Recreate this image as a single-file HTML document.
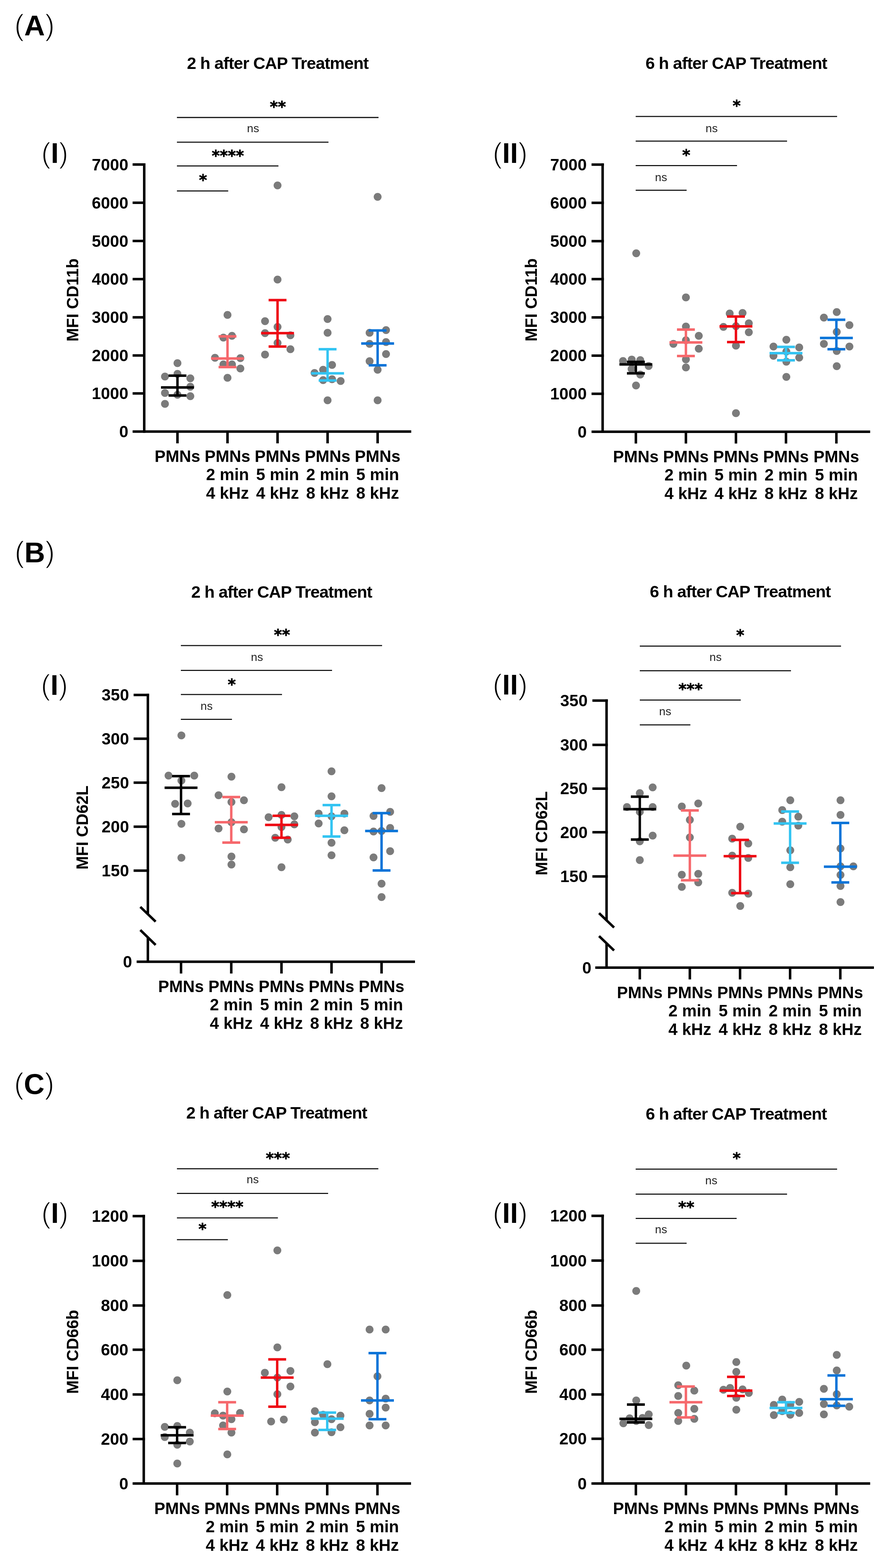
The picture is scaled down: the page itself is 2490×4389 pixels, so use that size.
<!DOCTYPE html>
<html><head><meta charset="utf-8"><title>CAP Treatment PMN markers</title>
<style>html,body{margin:0;padding:0;background:#fff;}body{width:2490px;height:4389px;overflow:hidden;}svg{display:block;}.pr{stroke:#fff;stroke-width:2.4px;}.st{font-family:'DejaVu Sans',sans-serif;stroke:#000;stroke-width:1px;}</style>
</head><body>
<svg width="2490" height="4389" viewBox="0 0 2490 4389" font-family="'Liberation Sans', Arial, Helvetica, sans-serif">
<rect width="2490" height="4389" fill="#fff"/>
<text x="40" y="98.5" font-size="80"><tspan class="pr" font-size="83">(</tspan><tspan font-weight="bold">A</tspan><tspan class="pr" font-size="83">)</tspan></text>
<text x="40.7" y="1574" font-size="80"><tspan class="pr" font-size="83">(</tspan><tspan font-weight="bold">B</tspan><tspan class="pr" font-size="83">)</tspan></text>
<text x="39.2" y="3062" font-size="80"><tspan class="pr" font-size="83">(</tspan><tspan font-weight="bold">C</tspan><tspan class="pr" font-size="83">)</tspan></text>
<circle cx="496.5" cy="1016.5" r="11" fill="#7b7b7b"/>
<circle cx="496.5" cy="1046.5" r="11" fill="#7b7b7b"/>
<circle cx="461.5" cy="1054" r="11" fill="#7b7b7b"/>
<circle cx="532.5" cy="1059" r="11" fill="#7b7b7b"/>
<circle cx="532.5" cy="1082.5" r="11" fill="#7b7b7b"/>
<circle cx="461.5" cy="1100" r="11" fill="#7b7b7b"/>
<circle cx="496.5" cy="1105" r="11" fill="#7b7b7b"/>
<circle cx="532.5" cy="1109" r="11" fill="#7b7b7b"/>
<circle cx="461.5" cy="1130.5" r="11" fill="#7b7b7b"/>
<circle cx="636.5" cy="881.5" r="11" fill="#7b7b7b"/>
<circle cx="625" cy="945" r="11" fill="#7b7b7b"/>
<circle cx="649" cy="940" r="11" fill="#7b7b7b"/>
<circle cx="601.5" cy="1001.5" r="11" fill="#7b7b7b"/>
<circle cx="672.5" cy="1002.5" r="11" fill="#7b7b7b"/>
<circle cx="625" cy="1020" r="11" fill="#7b7b7b"/>
<circle cx="649" cy="1020" r="11" fill="#7b7b7b"/>
<circle cx="672.5" cy="1031.5" r="11" fill="#7b7b7b"/>
<circle cx="636.5" cy="1057.5" r="11" fill="#7b7b7b"/>
<circle cx="776.5" cy="519" r="11" fill="#7b7b7b"/>
<circle cx="776.5" cy="782.5" r="11" fill="#7b7b7b"/>
<circle cx="741.5" cy="899" r="11" fill="#7b7b7b"/>
<circle cx="776.5" cy="915" r="11" fill="#7b7b7b"/>
<circle cx="741.5" cy="932.5" r="11" fill="#7b7b7b"/>
<circle cx="812.5" cy="938.5" r="11" fill="#7b7b7b"/>
<circle cx="776.5" cy="960" r="11" fill="#7b7b7b"/>
<circle cx="812.5" cy="977.5" r="11" fill="#7b7b7b"/>
<circle cx="741.5" cy="992.5" r="11" fill="#7b7b7b"/>
<circle cx="916.5" cy="893" r="11" fill="#7b7b7b"/>
<circle cx="916.5" cy="931.5" r="11" fill="#7b7b7b"/>
<circle cx="929" cy="1021.5" r="11" fill="#7b7b7b"/>
<circle cx="904" cy="1035" r="11" fill="#7b7b7b"/>
<circle cx="880" cy="1044" r="11" fill="#7b7b7b"/>
<circle cx="904" cy="1064" r="11" fill="#7b7b7b"/>
<circle cx="929" cy="1061.5" r="11" fill="#7b7b7b"/>
<circle cx="953" cy="1066.5" r="11" fill="#7b7b7b"/>
<circle cx="916.5" cy="1120.5" r="11" fill="#7b7b7b"/>
<circle cx="1056.5" cy="551" r="11" fill="#7b7b7b"/>
<circle cx="1034" cy="931.5" r="11" fill="#7b7b7b"/>
<circle cx="1080" cy="924" r="11" fill="#7b7b7b"/>
<circle cx="1034" cy="962.5" r="11" fill="#7b7b7b"/>
<circle cx="1080" cy="957.5" r="11" fill="#7b7b7b"/>
<circle cx="1080" cy="991" r="11" fill="#7b7b7b"/>
<circle cx="1034" cy="1011" r="11" fill="#7b7b7b"/>
<circle cx="1056.5" cy="1035" r="11" fill="#7b7b7b"/>
<circle cx="1056.5" cy="1120.5" r="11" fill="#7b7b7b"/>
<line x1="496.5" y1="1051.5" x2="496.5" y2="1107" stroke="#000000" stroke-width="6.8" stroke-linecap="butt"/>
<line x1="471.5" y1="1051.5" x2="521.5" y2="1051.5" stroke="#000000" stroke-width="7" stroke-linecap="butt"/>
<line x1="471.5" y1="1107" x2="521.5" y2="1107" stroke="#000000" stroke-width="7" stroke-linecap="butt"/>
<line x1="450.5" y1="1084.5" x2="542.5" y2="1084.5" stroke="#000000" stroke-width="7" stroke-linecap="butt"/>
<line x1="636.5" y1="941.5" x2="636.5" y2="1027.5" stroke="#f6686c" stroke-width="6.8" stroke-linecap="butt"/>
<line x1="611.5" y1="941.5" x2="661.5" y2="941.5" stroke="#f6686c" stroke-width="7" stroke-linecap="butt"/>
<line x1="611.5" y1="1027.5" x2="661.5" y2="1027.5" stroke="#f6686c" stroke-width="7" stroke-linecap="butt"/>
<line x1="590.5" y1="1003.5" x2="682.5" y2="1003.5" stroke="#f6686c" stroke-width="7" stroke-linecap="butt"/>
<line x1="776.5" y1="840" x2="776.5" y2="970" stroke="#ee0a14" stroke-width="6.8" stroke-linecap="butt"/>
<line x1="751.5" y1="840" x2="801.5" y2="840" stroke="#ee0a14" stroke-width="7" stroke-linecap="butt"/>
<line x1="751.5" y1="970" x2="801.5" y2="970" stroke="#ee0a14" stroke-width="7" stroke-linecap="butt"/>
<line x1="730.5" y1="932.5" x2="822.5" y2="932.5" stroke="#ee0a14" stroke-width="7" stroke-linecap="butt"/>
<line x1="916.5" y1="977.5" x2="916.5" y2="1065" stroke="#33c4f2" stroke-width="6.8" stroke-linecap="butt"/>
<line x1="891.5" y1="977.5" x2="941.5" y2="977.5" stroke="#33c4f2" stroke-width="7" stroke-linecap="butt"/>
<line x1="891.5" y1="1065" x2="941.5" y2="1065" stroke="#33c4f2" stroke-width="7" stroke-linecap="butt"/>
<line x1="870.5" y1="1045" x2="962.5" y2="1045" stroke="#33c4f2" stroke-width="7" stroke-linecap="butt"/>
<line x1="1056.5" y1="925" x2="1056.5" y2="1022.5" stroke="#0a74d8" stroke-width="6.8" stroke-linecap="butt"/>
<line x1="1031.5" y1="925" x2="1081.5" y2="925" stroke="#0a74d8" stroke-width="7" stroke-linecap="butt"/>
<line x1="1031.5" y1="1022.5" x2="1081.5" y2="1022.5" stroke="#0a74d8" stroke-width="7" stroke-linecap="butt"/>
<line x1="1010.5" y1="961.5" x2="1102.5" y2="961.5" stroke="#0a74d8" stroke-width="7" stroke-linecap="butt"/>
<line x1="403.5" y1="457" x2="403.5" y2="1211.5" stroke="#000" stroke-width="7" stroke-linecap="butt"/>
<line x1="371" y1="460.5" x2="407" y2="460.5" stroke="#000" stroke-width="7" stroke-linecap="butt"/>
<text x="359" y="476.5" font-size="46" font-weight="bold" text-anchor="end" fill="#000">7000</text>
<line x1="371" y1="567.5" x2="407" y2="567.5" stroke="#000" stroke-width="7" stroke-linecap="butt"/>
<text x="359" y="583.5" font-size="46" font-weight="bold" text-anchor="end" fill="#000">6000</text>
<line x1="371" y1="674.5" x2="407" y2="674.5" stroke="#000" stroke-width="7" stroke-linecap="butt"/>
<text x="359" y="690.5" font-size="46" font-weight="bold" text-anchor="end" fill="#000">5000</text>
<line x1="371" y1="781.3" x2="407" y2="781.3" stroke="#000" stroke-width="7" stroke-linecap="butt"/>
<text x="359" y="797.3" font-size="46" font-weight="bold" text-anchor="end" fill="#000">4000</text>
<line x1="371" y1="888.2" x2="407" y2="888.2" stroke="#000" stroke-width="7" stroke-linecap="butt"/>
<text x="359" y="904.2" font-size="46" font-weight="bold" text-anchor="end" fill="#000">3000</text>
<line x1="371" y1="995" x2="407" y2="995" stroke="#000" stroke-width="7" stroke-linecap="butt"/>
<text x="359" y="1011" font-size="46" font-weight="bold" text-anchor="end" fill="#000">2000</text>
<line x1="371" y1="1101.3" x2="407" y2="1101.3" stroke="#000" stroke-width="7" stroke-linecap="butt"/>
<text x="359" y="1117.3" font-size="46" font-weight="bold" text-anchor="end" fill="#000">1000</text>
<line x1="371" y1="1208" x2="1150.5" y2="1208" stroke="#000" stroke-width="7" stroke-linecap="butt"/>
<text x="359" y="1224" font-size="46" font-weight="bold" text-anchor="end" fill="#000">0</text>
<line x1="496.5" y1="1208" x2="496.5" y2="1241" stroke="#000" stroke-width="7" stroke-linecap="butt"/>
<text x="496.5" y="1293" font-size="46" font-weight="bold" text-anchor="middle" fill="#000">PMNs</text>
<line x1="636.5" y1="1208" x2="636.5" y2="1241" stroke="#000" stroke-width="7" stroke-linecap="butt"/>
<text x="636.5" y="1293" font-size="46" font-weight="bold" text-anchor="middle" fill="#000">PMNs</text>
<text x="636.5" y="1344" font-size="46" font-weight="bold" text-anchor="middle" fill="#000">2 min</text>
<text x="636.5" y="1396" font-size="46" font-weight="bold" text-anchor="middle" fill="#000">4 kHz</text>
<line x1="776.5" y1="1208" x2="776.5" y2="1241" stroke="#000" stroke-width="7" stroke-linecap="butt"/>
<text x="776.5" y="1293" font-size="46" font-weight="bold" text-anchor="middle" fill="#000">PMNs</text>
<text x="776.5" y="1344" font-size="46" font-weight="bold" text-anchor="middle" fill="#000">5 min</text>
<text x="776.5" y="1396" font-size="46" font-weight="bold" text-anchor="middle" fill="#000">4 kHz</text>
<line x1="916.5" y1="1208" x2="916.5" y2="1241" stroke="#000" stroke-width="7" stroke-linecap="butt"/>
<text x="916.5" y="1293" font-size="46" font-weight="bold" text-anchor="middle" fill="#000">PMNs</text>
<text x="916.5" y="1344" font-size="46" font-weight="bold" text-anchor="middle" fill="#000">2 min</text>
<text x="916.5" y="1396" font-size="46" font-weight="bold" text-anchor="middle" fill="#000">8 kHz</text>
<line x1="1056.5" y1="1208" x2="1056.5" y2="1241" stroke="#000" stroke-width="7" stroke-linecap="butt"/>
<text x="1056.5" y="1293" font-size="46" font-weight="bold" text-anchor="middle" fill="#000">PMNs</text>
<text x="1056.5" y="1344" font-size="46" font-weight="bold" text-anchor="middle" fill="#000">5 min</text>
<text x="1056.5" y="1396" font-size="46" font-weight="bold" text-anchor="middle" fill="#000">8 kHz</text>
<text x="218.5" y="839.75" font-size="45.5" font-weight="bold" text-anchor="middle" fill="#000" transform="rotate(-90 218.5 839.75)">MFI CD11b</text>
<text x="777.5" y="193" font-size="47" font-weight="bold" text-anchor="middle" fill="#000" textLength="509" lengthAdjust="spacing">2 h after CAP Treatment</text>
<text x="115.3" y="456" font-size="79"><tspan class="pr" font-size="81">(</tspan><tspan font-weight="bold">I</tspan><tspan class="pr" font-size="81">)</tspan></text>
<line x1="495" y1="328.8" x2="1059" y2="328.8" stroke="#111" stroke-width="3.2" stroke-linecap="butt"/>
<text x="777.5" y="313.93" font-size="43" font-weight="bold" text-anchor="middle" fill="#000" class="st">**</text>
<line x1="495" y1="398" x2="919" y2="398" stroke="#111" stroke-width="3.2" stroke-linecap="butt"/>
<text x="708" y="369.5" font-size="32" font-weight="normal" text-anchor="middle" fill="#222">ns</text>
<line x1="495" y1="464.5" x2="779" y2="464.5" stroke="#111" stroke-width="3.2" stroke-linecap="butt"/>
<text x="637.5" y="450.93" font-size="43" font-weight="bold" text-anchor="middle" fill="#000" class="st">****</text>
<line x1="495" y1="534.5" x2="638.5" y2="534.5" stroke="#111" stroke-width="3.2" stroke-linecap="butt"/>
<text x="568" y="519.43" font-size="43" font-weight="bold" text-anchor="middle" fill="#000" class="st">*</text>
<circle cx="1780" cy="709" r="11" fill="#7b7b7b"/>
<circle cx="1743" cy="1010.5" r="11" fill="#7b7b7b"/>
<circle cx="1767.4" cy="1006.4" r="11" fill="#7b7b7b"/>
<circle cx="1791.3" cy="1008" r="11" fill="#7b7b7b"/>
<circle cx="1814.8" cy="1024.5" r="11" fill="#7b7b7b"/>
<circle cx="1767" cy="1032.8" r="11" fill="#7b7b7b"/>
<circle cx="1791.3" cy="1048.4" r="11" fill="#7b7b7b"/>
<circle cx="1779.4" cy="1079" r="11" fill="#7b7b7b"/>
<circle cx="1919" cy="832.5" r="11" fill="#7b7b7b"/>
<circle cx="1919" cy="914" r="11" fill="#7b7b7b"/>
<circle cx="1955" cy="940" r="11" fill="#7b7b7b"/>
<circle cx="1884" cy="962.5" r="11" fill="#7b7b7b"/>
<circle cx="1919" cy="952.5" r="11" fill="#7b7b7b"/>
<circle cx="1955" cy="976" r="11" fill="#7b7b7b"/>
<circle cx="1919" cy="1006" r="11" fill="#7b7b7b"/>
<circle cx="1919" cy="1028.5" r="11" fill="#7b7b7b"/>
<circle cx="2041.5" cy="877.5" r="11" fill="#7b7b7b"/>
<circle cx="2077.5" cy="876" r="11" fill="#7b7b7b"/>
<circle cx="2095" cy="905" r="11" fill="#7b7b7b"/>
<circle cx="2024" cy="915" r="11" fill="#7b7b7b"/>
<circle cx="2059" cy="913" r="11" fill="#7b7b7b"/>
<circle cx="2095" cy="930" r="11" fill="#7b7b7b"/>
<circle cx="2059" cy="967.5" r="11" fill="#7b7b7b"/>
<circle cx="2059" cy="1156.5" r="11" fill="#7b7b7b"/>
<circle cx="2200" cy="951" r="11" fill="#7b7b7b"/>
<circle cx="2164" cy="970" r="11" fill="#7b7b7b"/>
<circle cx="2236" cy="972.5" r="11" fill="#7b7b7b"/>
<circle cx="2200" cy="984" r="11" fill="#7b7b7b"/>
<circle cx="2164" cy="996" r="11" fill="#7b7b7b"/>
<circle cx="2236" cy="1001" r="11" fill="#7b7b7b"/>
<circle cx="2200" cy="1012.5" r="11" fill="#7b7b7b"/>
<circle cx="2200" cy="1055" r="11" fill="#7b7b7b"/>
<circle cx="2341" cy="873.5" r="11" fill="#7b7b7b"/>
<circle cx="2305" cy="889" r="11" fill="#7b7b7b"/>
<circle cx="2376.5" cy="910" r="11" fill="#7b7b7b"/>
<circle cx="2341" cy="929" r="11" fill="#7b7b7b"/>
<circle cx="2305" cy="962.5" r="11" fill="#7b7b7b"/>
<circle cx="2376.5" cy="970" r="11" fill="#7b7b7b"/>
<circle cx="2341" cy="982.5" r="11" fill="#7b7b7b"/>
<circle cx="2341" cy="1025" r="11" fill="#7b7b7b"/>
<line x1="1779" y1="1013" x2="1779" y2="1045" stroke="#000000" stroke-width="6.8" stroke-linecap="butt"/>
<line x1="1754" y1="1013" x2="1804" y2="1013" stroke="#000000" stroke-width="7" stroke-linecap="butt"/>
<line x1="1754" y1="1045" x2="1804" y2="1045" stroke="#000000" stroke-width="7" stroke-linecap="butt"/>
<line x1="1733" y1="1020" x2="1825" y2="1020" stroke="#000000" stroke-width="7" stroke-linecap="butt"/>
<line x1="1919" y1="922.5" x2="1919" y2="996.5" stroke="#f6686c" stroke-width="6.8" stroke-linecap="butt"/>
<line x1="1894" y1="922.5" x2="1944" y2="922.5" stroke="#f6686c" stroke-width="7" stroke-linecap="butt"/>
<line x1="1894" y1="996.5" x2="1944" y2="996.5" stroke="#f6686c" stroke-width="7" stroke-linecap="butt"/>
<line x1="1873" y1="958.5" x2="1965" y2="958.5" stroke="#f6686c" stroke-width="7" stroke-linecap="butt"/>
<line x1="2059" y1="886" x2="2059" y2="957.5" stroke="#ee0a14" stroke-width="6.8" stroke-linecap="butt"/>
<line x1="2034" y1="886" x2="2084" y2="886" stroke="#ee0a14" stroke-width="7" stroke-linecap="butt"/>
<line x1="2034" y1="957.5" x2="2084" y2="957.5" stroke="#ee0a14" stroke-width="7" stroke-linecap="butt"/>
<line x1="2013" y1="913.5" x2="2105" y2="913.5" stroke="#ee0a14" stroke-width="7" stroke-linecap="butt"/>
<line x1="2199" y1="971" x2="2199" y2="1008.5" stroke="#33c4f2" stroke-width="6.8" stroke-linecap="butt"/>
<line x1="2174" y1="971" x2="2224" y2="971" stroke="#33c4f2" stroke-width="7" stroke-linecap="butt"/>
<line x1="2174" y1="1008.5" x2="2224" y2="1008.5" stroke="#33c4f2" stroke-width="7" stroke-linecap="butt"/>
<line x1="2153" y1="988.5" x2="2245" y2="988.5" stroke="#33c4f2" stroke-width="7" stroke-linecap="butt"/>
<line x1="2340" y1="895" x2="2340" y2="977.5" stroke="#0a74d8" stroke-width="6.8" stroke-linecap="butt"/>
<line x1="2315" y1="895" x2="2365" y2="895" stroke="#0a74d8" stroke-width="7" stroke-linecap="butt"/>
<line x1="2315" y1="977.5" x2="2365" y2="977.5" stroke="#0a74d8" stroke-width="7" stroke-linecap="butt"/>
<line x1="2294" y1="946" x2="2386" y2="946" stroke="#0a74d8" stroke-width="7" stroke-linecap="butt"/>
<line x1="1686" y1="457.3" x2="1686" y2="1212" stroke="#000" stroke-width="7" stroke-linecap="butt"/>
<line x1="1655" y1="460.8" x2="1689.5" y2="460.8" stroke="#000" stroke-width="7" stroke-linecap="butt"/>
<text x="1641.5" y="476.8" font-size="46" font-weight="bold" text-anchor="end" fill="#000">7000</text>
<line x1="1655" y1="567.8" x2="1689.5" y2="567.8" stroke="#000" stroke-width="7" stroke-linecap="butt"/>
<text x="1641.5" y="583.8" font-size="46" font-weight="bold" text-anchor="end" fill="#000">6000</text>
<line x1="1655" y1="674.9" x2="1689.5" y2="674.9" stroke="#000" stroke-width="7" stroke-linecap="butt"/>
<text x="1641.5" y="690.9" font-size="46" font-weight="bold" text-anchor="end" fill="#000">5000</text>
<line x1="1655" y1="781.3" x2="1689.5" y2="781.3" stroke="#000" stroke-width="7" stroke-linecap="butt"/>
<text x="1641.5" y="797.3" font-size="46" font-weight="bold" text-anchor="end" fill="#000">4000</text>
<line x1="1655" y1="888.4" x2="1689.5" y2="888.4" stroke="#000" stroke-width="7" stroke-linecap="butt"/>
<text x="1641.5" y="904.4" font-size="46" font-weight="bold" text-anchor="end" fill="#000">3000</text>
<line x1="1655" y1="995.4" x2="1689.5" y2="995.4" stroke="#000" stroke-width="7" stroke-linecap="butt"/>
<text x="1641.5" y="1011.4" font-size="46" font-weight="bold" text-anchor="end" fill="#000">2000</text>
<line x1="1655" y1="1102.2" x2="1689.5" y2="1102.2" stroke="#000" stroke-width="7" stroke-linecap="butt"/>
<text x="1641.5" y="1118.2" font-size="46" font-weight="bold" text-anchor="end" fill="#000">1000</text>
<line x1="1655" y1="1208.5" x2="2434.5" y2="1208.5" stroke="#000" stroke-width="7" stroke-linecap="butt"/>
<text x="1641.5" y="1224.5" font-size="46" font-weight="bold" text-anchor="end" fill="#000">0</text>
<line x1="1779" y1="1208.5" x2="1779" y2="1241.5" stroke="#000" stroke-width="7" stroke-linecap="butt"/>
<text x="1779" y="1293.5" font-size="46" font-weight="bold" text-anchor="middle" fill="#000">PMNs</text>
<line x1="1919" y1="1208.5" x2="1919" y2="1241.5" stroke="#000" stroke-width="7" stroke-linecap="butt"/>
<text x="1919" y="1293.5" font-size="46" font-weight="bold" text-anchor="middle" fill="#000">PMNs</text>
<text x="1919" y="1344.5" font-size="46" font-weight="bold" text-anchor="middle" fill="#000">2 min</text>
<text x="1919" y="1396.5" font-size="46" font-weight="bold" text-anchor="middle" fill="#000">4 kHz</text>
<line x1="2059" y1="1208.5" x2="2059" y2="1241.5" stroke="#000" stroke-width="7" stroke-linecap="butt"/>
<text x="2059" y="1293.5" font-size="46" font-weight="bold" text-anchor="middle" fill="#000">PMNs</text>
<text x="2059" y="1344.5" font-size="46" font-weight="bold" text-anchor="middle" fill="#000">5 min</text>
<text x="2059" y="1396.5" font-size="46" font-weight="bold" text-anchor="middle" fill="#000">4 kHz</text>
<line x1="2199" y1="1208.5" x2="2199" y2="1241.5" stroke="#000" stroke-width="7" stroke-linecap="butt"/>
<text x="2199" y="1293.5" font-size="46" font-weight="bold" text-anchor="middle" fill="#000">PMNs</text>
<text x="2199" y="1344.5" font-size="46" font-weight="bold" text-anchor="middle" fill="#000">2 min</text>
<text x="2199" y="1396.5" font-size="46" font-weight="bold" text-anchor="middle" fill="#000">8 kHz</text>
<line x1="2340" y1="1208.5" x2="2340" y2="1241.5" stroke="#000" stroke-width="7" stroke-linecap="butt"/>
<text x="2340" y="1293.5" font-size="46" font-weight="bold" text-anchor="middle" fill="#000">PMNs</text>
<text x="2340" y="1344.5" font-size="46" font-weight="bold" text-anchor="middle" fill="#000">5 min</text>
<text x="2340" y="1396.5" font-size="46" font-weight="bold" text-anchor="middle" fill="#000">8 kHz</text>
<text x="1502" y="839.5" font-size="45.5" font-weight="bold" text-anchor="middle" fill="#000" transform="rotate(-90 1502 839.5)">MFI CD11b</text>
<text x="2060.5" y="192.5" font-size="47" font-weight="bold" text-anchor="middle" fill="#000" textLength="509" lengthAdjust="spacing">6 h after CAP Treatment</text>
<text x="1378.3" y="456" font-size="79"><tspan class="pr" font-size="81">(</tspan><tspan font-weight="bold">II</tspan><tspan class="pr" font-size="81">)</tspan></text>
<line x1="1778.5" y1="326" x2="2342" y2="326" stroke="#111" stroke-width="3.2" stroke-linecap="butt"/>
<text x="2061" y="311.43" font-size="43" font-weight="bold" text-anchor="middle" fill="#000" class="st">*</text>
<line x1="1778.5" y1="395" x2="2202" y2="395" stroke="#111" stroke-width="3.2" stroke-linecap="butt"/>
<text x="1991" y="369.5" font-size="32" font-weight="normal" text-anchor="middle" fill="#222">ns</text>
<line x1="1778.5" y1="463.5" x2="2062" y2="463.5" stroke="#111" stroke-width="3.2" stroke-linecap="butt"/>
<text x="1920" y="449.43" font-size="43" font-weight="bold" text-anchor="middle" fill="#000" class="st">*</text>
<line x1="1778.5" y1="532.5" x2="1921" y2="532.5" stroke="#111" stroke-width="3.2" stroke-linecap="butt"/>
<text x="1849.5" y="507" font-size="32" font-weight="normal" text-anchor="middle" fill="#222">ns</text>
<circle cx="507.5" cy="2058.5" r="11" fill="#7b7b7b"/>
<circle cx="471.5" cy="2171" r="11" fill="#7b7b7b"/>
<circle cx="543.5" cy="2171" r="11" fill="#7b7b7b"/>
<circle cx="507.5" cy="2185" r="11" fill="#7b7b7b"/>
<circle cx="490" cy="2250" r="11" fill="#7b7b7b"/>
<circle cx="525" cy="2249" r="11" fill="#7b7b7b"/>
<circle cx="507.5" cy="2306" r="11" fill="#7b7b7b"/>
<circle cx="507.5" cy="2401" r="11" fill="#7b7b7b"/>
<circle cx="647.5" cy="2174" r="11" fill="#7b7b7b"/>
<circle cx="611.5" cy="2226" r="11" fill="#7b7b7b"/>
<circle cx="682.5" cy="2240" r="11" fill="#7b7b7b"/>
<circle cx="647.5" cy="2245" r="11" fill="#7b7b7b"/>
<circle cx="647.5" cy="2301.5" r="11" fill="#7b7b7b"/>
<circle cx="611.5" cy="2319" r="11" fill="#7b7b7b"/>
<circle cx="682.5" cy="2321.5" r="11" fill="#7b7b7b"/>
<circle cx="647.5" cy="2397.5" r="11" fill="#7b7b7b"/>
<circle cx="647.5" cy="2420" r="11" fill="#7b7b7b"/>
<circle cx="787.5" cy="2203.5" r="11" fill="#7b7b7b"/>
<circle cx="751.5" cy="2287.5" r="11" fill="#7b7b7b"/>
<circle cx="787.5" cy="2281" r="11" fill="#7b7b7b"/>
<circle cx="823.5" cy="2285" r="11" fill="#7b7b7b"/>
<circle cx="823.5" cy="2307.5" r="11" fill="#7b7b7b"/>
<circle cx="787.5" cy="2315" r="11" fill="#7b7b7b"/>
<circle cx="770" cy="2345" r="11" fill="#7b7b7b"/>
<circle cx="805" cy="2350" r="11" fill="#7b7b7b"/>
<circle cx="787.5" cy="2427.5" r="11" fill="#7b7b7b"/>
<circle cx="927.5" cy="2159" r="11" fill="#7b7b7b"/>
<circle cx="927.5" cy="2229" r="11" fill="#7b7b7b"/>
<circle cx="891.5" cy="2277.5" r="11" fill="#7b7b7b"/>
<circle cx="963.5" cy="2277.5" r="11" fill="#7b7b7b"/>
<circle cx="927.5" cy="2285" r="11" fill="#7b7b7b"/>
<circle cx="891.5" cy="2305" r="11" fill="#7b7b7b"/>
<circle cx="963.5" cy="2324" r="11" fill="#7b7b7b"/>
<circle cx="927.5" cy="2359" r="11" fill="#7b7b7b"/>
<circle cx="927.5" cy="2394" r="11" fill="#7b7b7b"/>
<circle cx="1067.5" cy="2206" r="11" fill="#7b7b7b"/>
<circle cx="1091.5" cy="2272.5" r="11" fill="#7b7b7b"/>
<circle cx="1045" cy="2284" r="11" fill="#7b7b7b"/>
<circle cx="1091.5" cy="2317.5" r="11" fill="#7b7b7b"/>
<circle cx="1045" cy="2327.5" r="11" fill="#7b7b7b"/>
<circle cx="1067.5" cy="2326" r="11" fill="#7b7b7b"/>
<circle cx="1091.5" cy="2382.5" r="11" fill="#7b7b7b"/>
<circle cx="1045" cy="2400" r="11" fill="#7b7b7b"/>
<circle cx="1067.5" cy="2473.5" r="11" fill="#7b7b7b"/>
<circle cx="1067.5" cy="2511" r="11" fill="#7b7b7b"/>
<line x1="506.5" y1="2172.5" x2="506.5" y2="2278.5" stroke="#000000" stroke-width="6.8" stroke-linecap="butt"/>
<line x1="481.5" y1="2172.5" x2="531.5" y2="2172.5" stroke="#000000" stroke-width="7" stroke-linecap="butt"/>
<line x1="481.5" y1="2278.5" x2="531.5" y2="2278.5" stroke="#000000" stroke-width="7" stroke-linecap="butt"/>
<line x1="460.5" y1="2205" x2="552.5" y2="2205" stroke="#000000" stroke-width="7" stroke-linecap="butt"/>
<line x1="647" y1="2231" x2="647" y2="2358.5" stroke="#f6686c" stroke-width="6.8" stroke-linecap="butt"/>
<line x1="622" y1="2231" x2="672" y2="2231" stroke="#f6686c" stroke-width="7" stroke-linecap="butt"/>
<line x1="622" y1="2358.5" x2="672" y2="2358.5" stroke="#f6686c" stroke-width="7" stroke-linecap="butt"/>
<line x1="601" y1="2301.5" x2="693" y2="2301.5" stroke="#f6686c" stroke-width="7" stroke-linecap="butt"/>
<line x1="787.5" y1="2283.5" x2="787.5" y2="2345" stroke="#ee0a14" stroke-width="6.8" stroke-linecap="butt"/>
<line x1="762.5" y1="2283.5" x2="812.5" y2="2283.5" stroke="#ee0a14" stroke-width="7" stroke-linecap="butt"/>
<line x1="762.5" y1="2345" x2="812.5" y2="2345" stroke="#ee0a14" stroke-width="7" stroke-linecap="butt"/>
<line x1="741.5" y1="2309" x2="833.5" y2="2309" stroke="#ee0a14" stroke-width="7" stroke-linecap="butt"/>
<line x1="927.5" y1="2253.5" x2="927.5" y2="2341.5" stroke="#33c4f2" stroke-width="6.8" stroke-linecap="butt"/>
<line x1="902.5" y1="2253.5" x2="952.5" y2="2253.5" stroke="#33c4f2" stroke-width="7" stroke-linecap="butt"/>
<line x1="902.5" y1="2341.5" x2="952.5" y2="2341.5" stroke="#33c4f2" stroke-width="7" stroke-linecap="butt"/>
<line x1="881.5" y1="2283.5" x2="973.5" y2="2283.5" stroke="#33c4f2" stroke-width="7" stroke-linecap="butt"/>
<line x1="1067.5" y1="2276" x2="1067.5" y2="2436.5" stroke="#0a74d8" stroke-width="6.8" stroke-linecap="butt"/>
<line x1="1042.5" y1="2276" x2="1092.5" y2="2276" stroke="#0a74d8" stroke-width="7" stroke-linecap="butt"/>
<line x1="1042.5" y1="2436.5" x2="1092.5" y2="2436.5" stroke="#0a74d8" stroke-width="7" stroke-linecap="butt"/>
<line x1="1021.5" y1="2326" x2="1113.5" y2="2326" stroke="#0a74d8" stroke-width="7" stroke-linecap="butt"/>
<line x1="413.7" y1="1941.8" x2="413.7" y2="2559.5" stroke="#000" stroke-width="7" stroke-linecap="butt"/>
<line x1="413.7" y1="2624.2" x2="413.7" y2="2692" stroke="#000" stroke-width="7" stroke-linecap="butt"/>
<line x1="392.6" y1="2538.6" x2="435.4" y2="2579.7" stroke="#000" stroke-width="7" stroke-linecap="butt"/>
<line x1="392.6" y1="2603.3" x2="435.4" y2="2644.9" stroke="#000" stroke-width="7" stroke-linecap="butt"/>
<line x1="373.8" y1="1945.3" x2="417.2" y2="1945.3" stroke="#000" stroke-width="7" stroke-linecap="butt"/>
<text x="361" y="1961.3" font-size="46" font-weight="bold" text-anchor="end" fill="#000">350</text>
<line x1="373.8" y1="2067.8" x2="417.2" y2="2067.8" stroke="#000" stroke-width="7" stroke-linecap="butt"/>
<text x="361" y="2083.8" font-size="46" font-weight="bold" text-anchor="end" fill="#000">300</text>
<line x1="373.8" y1="2190.8" x2="417.2" y2="2190.8" stroke="#000" stroke-width="7" stroke-linecap="butt"/>
<text x="361" y="2206.8" font-size="46" font-weight="bold" text-anchor="end" fill="#000">250</text>
<line x1="373.8" y1="2313.9" x2="417.2" y2="2313.9" stroke="#000" stroke-width="7" stroke-linecap="butt"/>
<text x="361" y="2329.9" font-size="46" font-weight="bold" text-anchor="end" fill="#000">200</text>
<line x1="373.8" y1="2437" x2="417.2" y2="2437" stroke="#000" stroke-width="7" stroke-linecap="butt"/>
<text x="361" y="2453" font-size="46" font-weight="bold" text-anchor="end" fill="#000">150</text>
<line x1="382.3" y1="2692" x2="1161" y2="2692" stroke="#000" stroke-width="7" stroke-linecap="butt"/>
<text x="369.5" y="2708" font-size="46" font-weight="bold" text-anchor="end" fill="#000">0</text>
<line x1="506.5" y1="2692" x2="506.5" y2="2725" stroke="#000" stroke-width="7" stroke-linecap="butt"/>
<text x="506.5" y="2777" font-size="46" font-weight="bold" text-anchor="middle" fill="#000">PMNs</text>
<line x1="647" y1="2692" x2="647" y2="2725" stroke="#000" stroke-width="7" stroke-linecap="butt"/>
<text x="647" y="2777" font-size="46" font-weight="bold" text-anchor="middle" fill="#000">PMNs</text>
<text x="647" y="2828" font-size="46" font-weight="bold" text-anchor="middle" fill="#000">2 min</text>
<text x="647" y="2880" font-size="46" font-weight="bold" text-anchor="middle" fill="#000">4 kHz</text>
<line x1="787.5" y1="2692" x2="787.5" y2="2725" stroke="#000" stroke-width="7" stroke-linecap="butt"/>
<text x="787.5" y="2777" font-size="46" font-weight="bold" text-anchor="middle" fill="#000">PMNs</text>
<text x="787.5" y="2828" font-size="46" font-weight="bold" text-anchor="middle" fill="#000">5 min</text>
<text x="787.5" y="2880" font-size="46" font-weight="bold" text-anchor="middle" fill="#000">4 kHz</text>
<line x1="927.5" y1="2692" x2="927.5" y2="2725" stroke="#000" stroke-width="7" stroke-linecap="butt"/>
<text x="927.5" y="2777" font-size="46" font-weight="bold" text-anchor="middle" fill="#000">PMNs</text>
<text x="927.5" y="2828" font-size="46" font-weight="bold" text-anchor="middle" fill="#000">2 min</text>
<text x="927.5" y="2880" font-size="46" font-weight="bold" text-anchor="middle" fill="#000">8 kHz</text>
<line x1="1067.5" y1="2692" x2="1067.5" y2="2725" stroke="#000" stroke-width="7" stroke-linecap="butt"/>
<text x="1067.5" y="2777" font-size="46" font-weight="bold" text-anchor="middle" fill="#000">PMNs</text>
<text x="1067.5" y="2828" font-size="46" font-weight="bold" text-anchor="middle" fill="#000">5 min</text>
<text x="1067.5" y="2880" font-size="46" font-weight="bold" text-anchor="middle" fill="#000">8 kHz</text>
<text x="246" y="2316.5" font-size="45.5" font-weight="bold" text-anchor="middle" fill="#000" transform="rotate(-90 246 2316.5)">MFI CD62L</text>
<text x="788.5" y="1672.5" font-size="47" font-weight="bold" text-anchor="middle" fill="#000" textLength="507" lengthAdjust="spacing">2 h after CAP Treatment</text>
<text x="114.3" y="1944.5" font-size="79"><tspan class="pr" font-size="81">(</tspan><tspan font-weight="bold">I</tspan><tspan class="pr" font-size="81">)</tspan></text>
<line x1="506" y1="1807" x2="1069" y2="1807" stroke="#111" stroke-width="3.2" stroke-linecap="butt"/>
<text x="789" y="1792.43" font-size="43" font-weight="bold" text-anchor="middle" fill="#000" class="st">**</text>
<line x1="506" y1="1876.5" x2="929" y2="1876.5" stroke="#111" stroke-width="3.2" stroke-linecap="butt"/>
<text x="719" y="1849.5" font-size="32" font-weight="normal" text-anchor="middle" fill="#222">ns</text>
<line x1="506" y1="1944" x2="789" y2="1944" stroke="#111" stroke-width="3.2" stroke-linecap="butt"/>
<text x="648.5" y="1930.63" font-size="43" font-weight="bold" text-anchor="middle" fill="#000" class="st">*</text>
<line x1="506" y1="2013.5" x2="649" y2="2013.5" stroke="#111" stroke-width="3.2" stroke-linecap="butt"/>
<text x="578" y="1987" font-size="32" font-weight="normal" text-anchor="middle" fill="#222">ns</text>
<circle cx="1826" cy="2204" r="11" fill="#7b7b7b"/>
<circle cx="1790" cy="2220" r="11" fill="#7b7b7b"/>
<circle cx="1754" cy="2259" r="11" fill="#7b7b7b"/>
<circle cx="1826" cy="2259" r="11" fill="#7b7b7b"/>
<circle cx="1790" cy="2272.5" r="11" fill="#7b7b7b"/>
<circle cx="1826" cy="2339" r="11" fill="#7b7b7b"/>
<circle cx="1790" cy="2355" r="11" fill="#7b7b7b"/>
<circle cx="1790" cy="2407.5" r="11" fill="#7b7b7b"/>
<circle cx="1953.5" cy="2249" r="11" fill="#7b7b7b"/>
<circle cx="1907.5" cy="2257.5" r="11" fill="#7b7b7b"/>
<circle cx="1930" cy="2295" r="11" fill="#7b7b7b"/>
<circle cx="1930" cy="2344" r="11" fill="#7b7b7b"/>
<circle cx="1907.5" cy="2448.5" r="11" fill="#7b7b7b"/>
<circle cx="1953.5" cy="2446" r="11" fill="#7b7b7b"/>
<circle cx="1953.5" cy="2470" r="11" fill="#7b7b7b"/>
<circle cx="1907.5" cy="2482.5" r="11" fill="#7b7b7b"/>
<circle cx="2071" cy="2314" r="11" fill="#7b7b7b"/>
<circle cx="2048.5" cy="2347.5" r="11" fill="#7b7b7b"/>
<circle cx="2093.5" cy="2361" r="11" fill="#7b7b7b"/>
<circle cx="2048.5" cy="2395" r="11" fill="#7b7b7b"/>
<circle cx="2093.5" cy="2401.5" r="11" fill="#7b7b7b"/>
<circle cx="2048.5" cy="2499" r="11" fill="#7b7b7b"/>
<circle cx="2093.5" cy="2501.5" r="11" fill="#7b7b7b"/>
<circle cx="2071" cy="2536" r="11" fill="#7b7b7b"/>
<circle cx="2211" cy="2240" r="11" fill="#7b7b7b"/>
<circle cx="2188.5" cy="2267.5" r="11" fill="#7b7b7b"/>
<circle cx="2233.5" cy="2286" r="11" fill="#7b7b7b"/>
<circle cx="2188.5" cy="2300" r="11" fill="#7b7b7b"/>
<circle cx="2233.5" cy="2311" r="11" fill="#7b7b7b"/>
<circle cx="2211" cy="2380" r="11" fill="#7b7b7b"/>
<circle cx="2211" cy="2427.5" r="11" fill="#7b7b7b"/>
<circle cx="2211" cy="2475" r="11" fill="#7b7b7b"/>
<circle cx="2351.5" cy="2240" r="11" fill="#7b7b7b"/>
<circle cx="2351.5" cy="2281" r="11" fill="#7b7b7b"/>
<circle cx="2351.5" cy="2375" r="11" fill="#7b7b7b"/>
<circle cx="2387.5" cy="2425" r="11" fill="#7b7b7b"/>
<circle cx="2351.5" cy="2425" r="11" fill="#7b7b7b"/>
<circle cx="2351.5" cy="2449" r="11" fill="#7b7b7b"/>
<circle cx="2351.5" cy="2480" r="11" fill="#7b7b7b"/>
<circle cx="2351.5" cy="2525" r="11" fill="#7b7b7b"/>
<line x1="1790" y1="2230" x2="1790" y2="2350" stroke="#000000" stroke-width="6.8" stroke-linecap="butt"/>
<line x1="1765" y1="2230" x2="1815" y2="2230" stroke="#000000" stroke-width="7" stroke-linecap="butt"/>
<line x1="1765" y1="2350" x2="1815" y2="2350" stroke="#000000" stroke-width="7" stroke-linecap="butt"/>
<line x1="1744" y1="2265" x2="1836" y2="2265" stroke="#000000" stroke-width="7" stroke-linecap="butt"/>
<line x1="1930" y1="2268.5" x2="1930" y2="2464" stroke="#f6686c" stroke-width="6.8" stroke-linecap="butt"/>
<line x1="1905" y1="2268.5" x2="1955" y2="2268.5" stroke="#f6686c" stroke-width="7" stroke-linecap="butt"/>
<line x1="1905" y1="2464" x2="1955" y2="2464" stroke="#f6686c" stroke-width="7" stroke-linecap="butt"/>
<line x1="1884" y1="2395" x2="1976" y2="2395" stroke="#f6686c" stroke-width="7" stroke-linecap="butt"/>
<line x1="2070.5" y1="2351" x2="2070.5" y2="2500" stroke="#ee0a14" stroke-width="6.8" stroke-linecap="butt"/>
<line x1="2045.5" y1="2351" x2="2095.5" y2="2351" stroke="#ee0a14" stroke-width="7" stroke-linecap="butt"/>
<line x1="2045.5" y1="2500" x2="2095.5" y2="2500" stroke="#ee0a14" stroke-width="7" stroke-linecap="butt"/>
<line x1="2024.5" y1="2396.5" x2="2116.5" y2="2396.5" stroke="#ee0a14" stroke-width="7" stroke-linecap="butt"/>
<line x1="2210.5" y1="2271.5" x2="2210.5" y2="2415" stroke="#33c4f2" stroke-width="6.8" stroke-linecap="butt"/>
<line x1="2185.5" y1="2271.5" x2="2235.5" y2="2271.5" stroke="#33c4f2" stroke-width="7" stroke-linecap="butt"/>
<line x1="2185.5" y1="2415" x2="2235.5" y2="2415" stroke="#33c4f2" stroke-width="7" stroke-linecap="butt"/>
<line x1="2164.5" y1="2305" x2="2256.5" y2="2305" stroke="#33c4f2" stroke-width="7" stroke-linecap="butt"/>
<line x1="2351" y1="2303.5" x2="2351" y2="2470" stroke="#0a74d8" stroke-width="6.8" stroke-linecap="butt"/>
<line x1="2326" y1="2303.5" x2="2376" y2="2303.5" stroke="#0a74d8" stroke-width="7" stroke-linecap="butt"/>
<line x1="2326" y1="2470" x2="2376" y2="2470" stroke="#0a74d8" stroke-width="7" stroke-linecap="butt"/>
<line x1="2305" y1="2426" x2="2397" y2="2426" stroke="#0a74d8" stroke-width="7" stroke-linecap="butt"/>
<line x1="1697" y1="1957.5" x2="1697" y2="2576.5" stroke="#000" stroke-width="7" stroke-linecap="butt"/>
<line x1="1697" y1="2640.5" x2="1697" y2="2708.5" stroke="#000" stroke-width="7" stroke-linecap="butt"/>
<line x1="1676" y1="2556" x2="1718" y2="2596.3" stroke="#000" stroke-width="7" stroke-linecap="butt"/>
<line x1="1676" y1="2620.3" x2="1718" y2="2660.5" stroke="#000" stroke-width="7" stroke-linecap="butt"/>
<line x1="1657.4" y1="1961" x2="1700.5" y2="1961" stroke="#000" stroke-width="7" stroke-linecap="butt"/>
<text x="1644" y="1977" font-size="46" font-weight="bold" text-anchor="end" fill="#000">350</text>
<line x1="1657.4" y1="2085" x2="1700.5" y2="2085" stroke="#000" stroke-width="7" stroke-linecap="butt"/>
<text x="1644" y="2101" font-size="46" font-weight="bold" text-anchor="end" fill="#000">300</text>
<line x1="1657.4" y1="2207.4" x2="1700.5" y2="2207.4" stroke="#000" stroke-width="7" stroke-linecap="butt"/>
<text x="1644" y="2223.4" font-size="46" font-weight="bold" text-anchor="end" fill="#000">250</text>
<line x1="1657.4" y1="2329.5" x2="1700.5" y2="2329.5" stroke="#000" stroke-width="7" stroke-linecap="butt"/>
<text x="1644" y="2345.5" font-size="46" font-weight="bold" text-anchor="end" fill="#000">200</text>
<line x1="1657.4" y1="2453.2" x2="1700.5" y2="2453.2" stroke="#000" stroke-width="7" stroke-linecap="butt"/>
<text x="1644" y="2469.2" font-size="46" font-weight="bold" text-anchor="end" fill="#000">150</text>
<line x1="1665.4" y1="2708.5" x2="2445" y2="2708.5" stroke="#000" stroke-width="7" stroke-linecap="butt"/>
<text x="1654.5" y="2724.5" font-size="46" font-weight="bold" text-anchor="end" fill="#000">0</text>
<line x1="1790" y1="2708.5" x2="1790" y2="2741.5" stroke="#000" stroke-width="7" stroke-linecap="butt"/>
<text x="1790" y="2793.5" font-size="46" font-weight="bold" text-anchor="middle" fill="#000">PMNs</text>
<line x1="1930" y1="2708.5" x2="1930" y2="2741.5" stroke="#000" stroke-width="7" stroke-linecap="butt"/>
<text x="1930" y="2793.5" font-size="46" font-weight="bold" text-anchor="middle" fill="#000">PMNs</text>
<text x="1930" y="2844.5" font-size="46" font-weight="bold" text-anchor="middle" fill="#000">2 min</text>
<text x="1930" y="2896.5" font-size="46" font-weight="bold" text-anchor="middle" fill="#000">4 kHz</text>
<line x1="2070.5" y1="2708.5" x2="2070.5" y2="2741.5" stroke="#000" stroke-width="7" stroke-linecap="butt"/>
<text x="2070.5" y="2793.5" font-size="46" font-weight="bold" text-anchor="middle" fill="#000">PMNs</text>
<text x="2070.5" y="2844.5" font-size="46" font-weight="bold" text-anchor="middle" fill="#000">5 min</text>
<text x="2070.5" y="2896.5" font-size="46" font-weight="bold" text-anchor="middle" fill="#000">4 kHz</text>
<line x1="2210.5" y1="2708.5" x2="2210.5" y2="2741.5" stroke="#000" stroke-width="7" stroke-linecap="butt"/>
<text x="2210.5" y="2793.5" font-size="46" font-weight="bold" text-anchor="middle" fill="#000">PMNs</text>
<text x="2210.5" y="2844.5" font-size="46" font-weight="bold" text-anchor="middle" fill="#000">2 min</text>
<text x="2210.5" y="2896.5" font-size="46" font-weight="bold" text-anchor="middle" fill="#000">8 kHz</text>
<line x1="2351" y1="2708.5" x2="2351" y2="2741.5" stroke="#000" stroke-width="7" stroke-linecap="butt"/>
<text x="2351" y="2793.5" font-size="46" font-weight="bold" text-anchor="middle" fill="#000">PMNs</text>
<text x="2351" y="2844.5" font-size="46" font-weight="bold" text-anchor="middle" fill="#000">5 min</text>
<text x="2351" y="2896.5" font-size="46" font-weight="bold" text-anchor="middle" fill="#000">8 kHz</text>
<text x="1531" y="2332.6" font-size="45.5" font-weight="bold" text-anchor="middle" fill="#000" transform="rotate(-90 1531 2332.6)">MFI CD62L</text>
<text x="2071.5" y="1672" font-size="47" font-weight="bold" text-anchor="middle" fill="#000" textLength="507" lengthAdjust="spacing">6 h after CAP Treatment</text>
<text x="1378.3" y="1944" font-size="79"><tspan class="pr" font-size="81">(</tspan><tspan font-weight="bold">II</tspan><tspan class="pr" font-size="81">)</tspan></text>
<line x1="1790" y1="1808.5" x2="2353" y2="1808.5" stroke="#111" stroke-width="3.2" stroke-linecap="butt"/>
<text x="2071" y="1793.13" font-size="43" font-weight="bold" text-anchor="middle" fill="#000" class="st">*</text>
<line x1="1790" y1="1877.5" x2="2213" y2="1877.5" stroke="#111" stroke-width="3.2" stroke-linecap="butt"/>
<text x="2002" y="1850" font-size="32" font-weight="normal" text-anchor="middle" fill="#222">ns</text>
<line x1="1790" y1="1959.5" x2="2072.5" y2="1959.5" stroke="#111" stroke-width="3.2" stroke-linecap="butt"/>
<text x="1932" y="1944.43" font-size="43" font-weight="bold" text-anchor="middle" fill="#000" class="st">***</text>
<line x1="1790" y1="2029" x2="1931.5" y2="2029" stroke="#111" stroke-width="3.2" stroke-linecap="butt"/>
<text x="1861" y="2002" font-size="32" font-weight="normal" text-anchor="middle" fill="#222">ns</text>
<circle cx="496" cy="3863.5" r="11" fill="#7b7b7b"/>
<circle cx="461" cy="3994" r="11" fill="#7b7b7b"/>
<circle cx="496" cy="3991.5" r="11" fill="#7b7b7b"/>
<circle cx="531" cy="4010" r="11" fill="#7b7b7b"/>
<circle cx="461" cy="4022.5" r="11" fill="#7b7b7b"/>
<circle cx="531" cy="4035" r="11" fill="#7b7b7b"/>
<circle cx="496" cy="4044" r="11" fill="#7b7b7b"/>
<circle cx="496" cy="4096.5" r="11" fill="#7b7b7b"/>
<circle cx="636" cy="3625" r="11" fill="#7b7b7b"/>
<circle cx="636" cy="3895" r="11" fill="#7b7b7b"/>
<circle cx="601" cy="3956" r="11" fill="#7b7b7b"/>
<circle cx="671.5" cy="3955" r="11" fill="#7b7b7b"/>
<circle cx="624" cy="3962.5" r="11" fill="#7b7b7b"/>
<circle cx="647.5" cy="3972.5" r="11" fill="#7b7b7b"/>
<circle cx="624" cy="3990" r="11" fill="#7b7b7b"/>
<circle cx="647.5" cy="4010" r="11" fill="#7b7b7b"/>
<circle cx="636" cy="4071" r="11" fill="#7b7b7b"/>
<circle cx="776" cy="3500" r="11" fill="#7b7b7b"/>
<circle cx="776" cy="3771.5" r="11" fill="#7b7b7b"/>
<circle cx="741" cy="3842.5" r="11" fill="#7b7b7b"/>
<circle cx="812.5" cy="3837.5" r="11" fill="#7b7b7b"/>
<circle cx="776" cy="3856" r="11" fill="#7b7b7b"/>
<circle cx="812.5" cy="3881" r="11" fill="#7b7b7b"/>
<circle cx="776" cy="3902.5" r="11" fill="#7b7b7b"/>
<circle cx="758.5" cy="3979" r="11" fill="#7b7b7b"/>
<circle cx="794" cy="3973.5" r="11" fill="#7b7b7b"/>
<circle cx="916" cy="3818.5" r="11" fill="#7b7b7b"/>
<circle cx="881" cy="3950" r="11" fill="#7b7b7b"/>
<circle cx="904" cy="3960" r="11" fill="#7b7b7b"/>
<circle cx="952.5" cy="3962.5" r="11" fill="#7b7b7b"/>
<circle cx="927.5" cy="3972.5" r="11" fill="#7b7b7b"/>
<circle cx="881" cy="3981" r="11" fill="#7b7b7b"/>
<circle cx="952.5" cy="3995" r="11" fill="#7b7b7b"/>
<circle cx="881" cy="4010" r="11" fill="#7b7b7b"/>
<circle cx="927.5" cy="4009" r="11" fill="#7b7b7b"/>
<circle cx="1034" cy="3721.5" r="11" fill="#7b7b7b"/>
<circle cx="1079" cy="3721.5" r="11" fill="#7b7b7b"/>
<circle cx="1056" cy="3852.5" r="11" fill="#7b7b7b"/>
<circle cx="1034" cy="3920" r="11" fill="#7b7b7b"/>
<circle cx="1079" cy="3915" r="11" fill="#7b7b7b"/>
<circle cx="1079" cy="3940" r="11" fill="#7b7b7b"/>
<circle cx="1034" cy="3957.5" r="11" fill="#7b7b7b"/>
<circle cx="1034" cy="3990" r="11" fill="#7b7b7b"/>
<circle cx="1079" cy="3990" r="11" fill="#7b7b7b"/>
<line x1="495.5" y1="3995" x2="495.5" y2="4039" stroke="#000000" stroke-width="6.8" stroke-linecap="butt"/>
<line x1="470.5" y1="3995" x2="520.5" y2="3995" stroke="#000000" stroke-width="7" stroke-linecap="butt"/>
<line x1="470.5" y1="4039" x2="520.5" y2="4039" stroke="#000000" stroke-width="7" stroke-linecap="butt"/>
<line x1="449.5" y1="4017.5" x2="541.5" y2="4017.5" stroke="#000000" stroke-width="7" stroke-linecap="butt"/>
<line x1="635.5" y1="3925" x2="635.5" y2="4000" stroke="#f6686c" stroke-width="6.8" stroke-linecap="butt"/>
<line x1="610.5" y1="3925" x2="660.5" y2="3925" stroke="#f6686c" stroke-width="7" stroke-linecap="butt"/>
<line x1="610.5" y1="4000" x2="660.5" y2="4000" stroke="#f6686c" stroke-width="7" stroke-linecap="butt"/>
<line x1="589.5" y1="3962.5" x2="681.5" y2="3962.5" stroke="#f6686c" stroke-width="7" stroke-linecap="butt"/>
<line x1="775.5" y1="3805" x2="775.5" y2="3937.5" stroke="#ee0a14" stroke-width="6.8" stroke-linecap="butt"/>
<line x1="750.5" y1="3805" x2="800.5" y2="3805" stroke="#ee0a14" stroke-width="7" stroke-linecap="butt"/>
<line x1="750.5" y1="3937.5" x2="800.5" y2="3937.5" stroke="#ee0a14" stroke-width="7" stroke-linecap="butt"/>
<line x1="729.5" y1="3856" x2="821.5" y2="3856" stroke="#ee0a14" stroke-width="7" stroke-linecap="butt"/>
<line x1="915.5" y1="3954" x2="915.5" y2="4002.5" stroke="#33c4f2" stroke-width="6.8" stroke-linecap="butt"/>
<line x1="890.5" y1="3954" x2="940.5" y2="3954" stroke="#33c4f2" stroke-width="7" stroke-linecap="butt"/>
<line x1="890.5" y1="4002.5" x2="940.5" y2="4002.5" stroke="#33c4f2" stroke-width="7" stroke-linecap="butt"/>
<line x1="869.5" y1="3971" x2="961.5" y2="3971" stroke="#33c4f2" stroke-width="7" stroke-linecap="butt"/>
<line x1="1056" y1="3787.5" x2="1056" y2="3972.5" stroke="#0a74d8" stroke-width="6.8" stroke-linecap="butt"/>
<line x1="1031" y1="3787.5" x2="1081" y2="3787.5" stroke="#0a74d8" stroke-width="7" stroke-linecap="butt"/>
<line x1="1031" y1="3972.5" x2="1081" y2="3972.5" stroke="#0a74d8" stroke-width="7" stroke-linecap="butt"/>
<line x1="1010" y1="3920" x2="1102" y2="3920" stroke="#0a74d8" stroke-width="7" stroke-linecap="butt"/>
<line x1="402.2" y1="3400.5" x2="402.2" y2="4156.1" stroke="#000" stroke-width="7" stroke-linecap="butt"/>
<line x1="371" y1="3404" x2="405.7" y2="3404" stroke="#000" stroke-width="7" stroke-linecap="butt"/>
<text x="359" y="3420" font-size="46" font-weight="bold" text-anchor="end" fill="#000">1200</text>
<line x1="371" y1="3529.2" x2="405.7" y2="3529.2" stroke="#000" stroke-width="7" stroke-linecap="butt"/>
<text x="359" y="3545.2" font-size="46" font-weight="bold" text-anchor="end" fill="#000">1000</text>
<line x1="371" y1="3654.2" x2="405.7" y2="3654.2" stroke="#000" stroke-width="7" stroke-linecap="butt"/>
<text x="359" y="3670.2" font-size="46" font-weight="bold" text-anchor="end" fill="#000">800</text>
<line x1="371" y1="3777.9" x2="405.7" y2="3777.9" stroke="#000" stroke-width="7" stroke-linecap="butt"/>
<text x="359" y="3793.9" font-size="46" font-weight="bold" text-anchor="end" fill="#000">600</text>
<line x1="371" y1="3903.2" x2="405.7" y2="3903.2" stroke="#000" stroke-width="7" stroke-linecap="butt"/>
<text x="359" y="3919.2" font-size="46" font-weight="bold" text-anchor="end" fill="#000">400</text>
<line x1="371" y1="4028.1" x2="405.7" y2="4028.1" stroke="#000" stroke-width="7" stroke-linecap="butt"/>
<text x="359" y="4044.1" font-size="46" font-weight="bold" text-anchor="end" fill="#000">200</text>
<line x1="371" y1="4152.6" x2="1150" y2="4152.6" stroke="#000" stroke-width="7" stroke-linecap="butt"/>
<text x="359" y="4168.6" font-size="46" font-weight="bold" text-anchor="end" fill="#000">0</text>
<line x1="495.5" y1="4152.6" x2="495.5" y2="4185.6" stroke="#000" stroke-width="7" stroke-linecap="butt"/>
<text x="495.5" y="4237.6" font-size="46" font-weight="bold" text-anchor="middle" fill="#000">PMNs</text>
<line x1="635.5" y1="4152.6" x2="635.5" y2="4185.6" stroke="#000" stroke-width="7" stroke-linecap="butt"/>
<text x="635.5" y="4237.6" font-size="46" font-weight="bold" text-anchor="middle" fill="#000">PMNs</text>
<text x="635.5" y="4288.6" font-size="46" font-weight="bold" text-anchor="middle" fill="#000">2 min</text>
<text x="635.5" y="4340.6" font-size="46" font-weight="bold" text-anchor="middle" fill="#000">4 kHz</text>
<line x1="775.5" y1="4152.6" x2="775.5" y2="4185.6" stroke="#000" stroke-width="7" stroke-linecap="butt"/>
<text x="775.5" y="4237.6" font-size="46" font-weight="bold" text-anchor="middle" fill="#000">PMNs</text>
<text x="775.5" y="4288.6" font-size="46" font-weight="bold" text-anchor="middle" fill="#000">5 min</text>
<text x="775.5" y="4340.6" font-size="46" font-weight="bold" text-anchor="middle" fill="#000">4 kHz</text>
<line x1="915.5" y1="4152.6" x2="915.5" y2="4185.6" stroke="#000" stroke-width="7" stroke-linecap="butt"/>
<text x="915.5" y="4237.6" font-size="46" font-weight="bold" text-anchor="middle" fill="#000">PMNs</text>
<text x="915.5" y="4288.6" font-size="46" font-weight="bold" text-anchor="middle" fill="#000">2 min</text>
<text x="915.5" y="4340.6" font-size="46" font-weight="bold" text-anchor="middle" fill="#000">8 kHz</text>
<line x1="1056" y1="4152.6" x2="1056" y2="4185.6" stroke="#000" stroke-width="7" stroke-linecap="butt"/>
<text x="1056" y="4237.6" font-size="46" font-weight="bold" text-anchor="middle" fill="#000">PMNs</text>
<text x="1056" y="4288.6" font-size="46" font-weight="bold" text-anchor="middle" fill="#000">5 min</text>
<text x="1056" y="4340.6" font-size="46" font-weight="bold" text-anchor="middle" fill="#000">8 kHz</text>
<text x="218.5" y="3784" font-size="45.5" font-weight="bold" text-anchor="middle" fill="#000" transform="rotate(-90 218.5 3784)">MFI CD66b</text>
<text x="774.5" y="3131" font-size="47" font-weight="bold" text-anchor="middle" fill="#000" textLength="507" lengthAdjust="spacing">2 h after CAP Treatment</text>
<text x="115.5" y="3423" font-size="79"><tspan class="pr" font-size="81">(</tspan><tspan font-weight="bold">I</tspan><tspan class="pr" font-size="81">)</tspan></text>
<line x1="495" y1="3271.5" x2="1058.5" y2="3271.5" stroke="#111" stroke-width="3.2" stroke-linecap="butt"/>
<text x="777.5" y="3256.93" font-size="43" font-weight="bold" text-anchor="middle" fill="#000" class="st">***</text>
<line x1="495" y1="3340.5" x2="918" y2="3340.5" stroke="#111" stroke-width="3.2" stroke-linecap="butt"/>
<text x="707" y="3312" font-size="32" font-weight="normal" text-anchor="middle" fill="#222">ns</text>
<line x1="495" y1="3409" x2="777.5" y2="3409" stroke="#111" stroke-width="3.2" stroke-linecap="butt"/>
<text x="636" y="3393.43" font-size="43" font-weight="bold" text-anchor="middle" fill="#000" class="st">****</text>
<line x1="495" y1="3470" x2="637.5" y2="3470" stroke="#111" stroke-width="3.2" stroke-linecap="butt"/>
<text x="566.5" y="3454.63" font-size="43" font-weight="bold" text-anchor="middle" fill="#000" class="st">*</text>
<circle cx="1780" cy="3613.5" r="11" fill="#7b7b7b"/>
<circle cx="1780" cy="3920" r="11" fill="#7b7b7b"/>
<circle cx="1815" cy="3959" r="11" fill="#7b7b7b"/>
<circle cx="1761.5" cy="3970" r="11" fill="#7b7b7b"/>
<circle cx="1797.5" cy="3969" r="11" fill="#7b7b7b"/>
<circle cx="1744" cy="3984" r="11" fill="#7b7b7b"/>
<circle cx="1780" cy="3977.5" r="11" fill="#7b7b7b"/>
<circle cx="1815" cy="3989" r="11" fill="#7b7b7b"/>
<circle cx="1920" cy="3822.5" r="11" fill="#7b7b7b"/>
<circle cx="1897.5" cy="3877.5" r="11" fill="#7b7b7b"/>
<circle cx="1942.5" cy="3892.5" r="11" fill="#7b7b7b"/>
<circle cx="1897.5" cy="3907.5" r="11" fill="#7b7b7b"/>
<circle cx="1942.5" cy="3943.5" r="11" fill="#7b7b7b"/>
<circle cx="1897.5" cy="3955" r="11" fill="#7b7b7b"/>
<circle cx="1942.5" cy="3971.5" r="11" fill="#7b7b7b"/>
<circle cx="1897.5" cy="3977.5" r="11" fill="#7b7b7b"/>
<circle cx="2060" cy="3812.5" r="11" fill="#7b7b7b"/>
<circle cx="2060" cy="3840" r="11" fill="#7b7b7b"/>
<circle cx="2024" cy="3890" r="11" fill="#7b7b7b"/>
<circle cx="2042.5" cy="3885" r="11" fill="#7b7b7b"/>
<circle cx="2077.5" cy="3889" r="11" fill="#7b7b7b"/>
<circle cx="2095" cy="3899" r="11" fill="#7b7b7b"/>
<circle cx="2060" cy="3912.5" r="11" fill="#7b7b7b"/>
<circle cx="2060" cy="3946" r="11" fill="#7b7b7b"/>
<circle cx="2188.5" cy="3917.5" r="11" fill="#7b7b7b"/>
<circle cx="2165" cy="3932.5" r="11" fill="#7b7b7b"/>
<circle cx="2236" cy="3924" r="11" fill="#7b7b7b"/>
<circle cx="2211" cy="3932.5" r="11" fill="#7b7b7b"/>
<circle cx="2188.5" cy="3950" r="11" fill="#7b7b7b"/>
<circle cx="2236" cy="3955" r="11" fill="#7b7b7b"/>
<circle cx="2211" cy="3960" r="11" fill="#7b7b7b"/>
<circle cx="2165" cy="3961" r="11" fill="#7b7b7b"/>
<circle cx="2341" cy="3792.5" r="11" fill="#7b7b7b"/>
<circle cx="2341" cy="3836" r="11" fill="#7b7b7b"/>
<circle cx="2305" cy="3887.5" r="11" fill="#7b7b7b"/>
<circle cx="2341" cy="3902.5" r="11" fill="#7b7b7b"/>
<circle cx="2305" cy="3930" r="11" fill="#7b7b7b"/>
<circle cx="2341" cy="3934" r="11" fill="#7b7b7b"/>
<circle cx="2376" cy="3937.5" r="11" fill="#7b7b7b"/>
<circle cx="2305" cy="3959" r="11" fill="#7b7b7b"/>
<line x1="1779" y1="3931.5" x2="1779" y2="3981.5" stroke="#000000" stroke-width="6.8" stroke-linecap="butt"/>
<line x1="1754" y1="3931.5" x2="1804" y2="3931.5" stroke="#000000" stroke-width="7" stroke-linecap="butt"/>
<line x1="1754" y1="3981.5" x2="1804" y2="3981.5" stroke="#000000" stroke-width="7" stroke-linecap="butt"/>
<line x1="1733" y1="3971.5" x2="1825" y2="3971.5" stroke="#000000" stroke-width="7" stroke-linecap="butt"/>
<line x1="1919" y1="3881" x2="1919" y2="3967.5" stroke="#f6686c" stroke-width="6.8" stroke-linecap="butt"/>
<line x1="1894" y1="3881" x2="1944" y2="3881" stroke="#f6686c" stroke-width="7" stroke-linecap="butt"/>
<line x1="1894" y1="3967.5" x2="1944" y2="3967.5" stroke="#f6686c" stroke-width="7" stroke-linecap="butt"/>
<line x1="1873" y1="3925" x2="1965" y2="3925" stroke="#f6686c" stroke-width="7" stroke-linecap="butt"/>
<line x1="2059" y1="3854" x2="2059" y2="3907.5" stroke="#ee0a14" stroke-width="6.8" stroke-linecap="butt"/>
<line x1="2034" y1="3854" x2="2084" y2="3854" stroke="#ee0a14" stroke-width="7" stroke-linecap="butt"/>
<line x1="2034" y1="3907.5" x2="2084" y2="3907.5" stroke="#ee0a14" stroke-width="7" stroke-linecap="butt"/>
<line x1="2013" y1="3892.5" x2="2105" y2="3892.5" stroke="#ee0a14" stroke-width="7" stroke-linecap="butt"/>
<line x1="2199" y1="3925" x2="2199" y2="3955" stroke="#33c4f2" stroke-width="6.8" stroke-linecap="butt"/>
<line x1="2174" y1="3925" x2="2224" y2="3925" stroke="#33c4f2" stroke-width="7" stroke-linecap="butt"/>
<line x1="2174" y1="3955" x2="2224" y2="3955" stroke="#33c4f2" stroke-width="7" stroke-linecap="butt"/>
<line x1="2153" y1="3941" x2="2245" y2="3941" stroke="#33c4f2" stroke-width="7" stroke-linecap="butt"/>
<line x1="2340" y1="3850" x2="2340" y2="3935" stroke="#0a74d8" stroke-width="6.8" stroke-linecap="butt"/>
<line x1="2315" y1="3850" x2="2365" y2="3850" stroke="#0a74d8" stroke-width="7" stroke-linecap="butt"/>
<line x1="2315" y1="3935" x2="2365" y2="3935" stroke="#0a74d8" stroke-width="7" stroke-linecap="butt"/>
<line x1="2294" y1="3916.5" x2="2386" y2="3916.5" stroke="#0a74d8" stroke-width="7" stroke-linecap="butt"/>
<line x1="1686" y1="3399.8" x2="1686" y2="4156.1" stroke="#000" stroke-width="7" stroke-linecap="butt"/>
<line x1="1654.7" y1="3403.3" x2="1689.5" y2="3403.3" stroke="#000" stroke-width="7" stroke-linecap="butt"/>
<text x="1641.5" y="3419.3" font-size="46" font-weight="bold" text-anchor="end" fill="#000">1200</text>
<line x1="1654.7" y1="3528.6" x2="1689.5" y2="3528.6" stroke="#000" stroke-width="7" stroke-linecap="butt"/>
<text x="1641.5" y="3544.6" font-size="46" font-weight="bold" text-anchor="end" fill="#000">1000</text>
<line x1="1654.7" y1="3654.2" x2="1689.5" y2="3654.2" stroke="#000" stroke-width="7" stroke-linecap="butt"/>
<text x="1641.5" y="3670.2" font-size="46" font-weight="bold" text-anchor="end" fill="#000">800</text>
<line x1="1654.7" y1="3777.9" x2="1689.5" y2="3777.9" stroke="#000" stroke-width="7" stroke-linecap="butt"/>
<text x="1641.5" y="3793.9" font-size="46" font-weight="bold" text-anchor="end" fill="#000">600</text>
<line x1="1654.7" y1="3903.2" x2="1689.5" y2="3903.2" stroke="#000" stroke-width="7" stroke-linecap="butt"/>
<text x="1641.5" y="3919.2" font-size="46" font-weight="bold" text-anchor="end" fill="#000">400</text>
<line x1="1654.7" y1="4027.2" x2="1689.5" y2="4027.2" stroke="#000" stroke-width="7" stroke-linecap="butt"/>
<text x="1641.5" y="4043.2" font-size="46" font-weight="bold" text-anchor="end" fill="#000">200</text>
<line x1="1654.7" y1="4152.6" x2="2434.5" y2="4152.6" stroke="#000" stroke-width="7" stroke-linecap="butt"/>
<text x="1641.5" y="4168.6" font-size="46" font-weight="bold" text-anchor="end" fill="#000">0</text>
<line x1="1779" y1="4152.6" x2="1779" y2="4185.6" stroke="#000" stroke-width="7" stroke-linecap="butt"/>
<text x="1779" y="4237.6" font-size="46" font-weight="bold" text-anchor="middle" fill="#000">PMNs</text>
<line x1="1919" y1="4152.6" x2="1919" y2="4185.6" stroke="#000" stroke-width="7" stroke-linecap="butt"/>
<text x="1919" y="4237.6" font-size="46" font-weight="bold" text-anchor="middle" fill="#000">PMNs</text>
<text x="1919" y="4288.6" font-size="46" font-weight="bold" text-anchor="middle" fill="#000">2 min</text>
<text x="1919" y="4340.6" font-size="46" font-weight="bold" text-anchor="middle" fill="#000">4 kHz</text>
<line x1="2059" y1="4152.6" x2="2059" y2="4185.6" stroke="#000" stroke-width="7" stroke-linecap="butt"/>
<text x="2059" y="4237.6" font-size="46" font-weight="bold" text-anchor="middle" fill="#000">PMNs</text>
<text x="2059" y="4288.6" font-size="46" font-weight="bold" text-anchor="middle" fill="#000">5 min</text>
<text x="2059" y="4340.6" font-size="46" font-weight="bold" text-anchor="middle" fill="#000">4 kHz</text>
<line x1="2199" y1="4152.6" x2="2199" y2="4185.6" stroke="#000" stroke-width="7" stroke-linecap="butt"/>
<text x="2199" y="4237.6" font-size="46" font-weight="bold" text-anchor="middle" fill="#000">PMNs</text>
<text x="2199" y="4288.6" font-size="46" font-weight="bold" text-anchor="middle" fill="#000">2 min</text>
<text x="2199" y="4340.6" font-size="46" font-weight="bold" text-anchor="middle" fill="#000">8 kHz</text>
<line x1="2340" y1="4152.6" x2="2340" y2="4185.6" stroke="#000" stroke-width="7" stroke-linecap="butt"/>
<text x="2340" y="4237.6" font-size="46" font-weight="bold" text-anchor="middle" fill="#000">PMNs</text>
<text x="2340" y="4288.6" font-size="46" font-weight="bold" text-anchor="middle" fill="#000">5 min</text>
<text x="2340" y="4340.6" font-size="46" font-weight="bold" text-anchor="middle" fill="#000">8 kHz</text>
<text x="1502" y="3784" font-size="45.5" font-weight="bold" text-anchor="middle" fill="#000" transform="rotate(-90 1502 3784)">MFI CD66b</text>
<text x="2060.25" y="3134" font-size="47" font-weight="bold" text-anchor="middle" fill="#000" textLength="507.5" lengthAdjust="spacing">6 h after CAP Treatment</text>
<text x="1378.3" y="3423" font-size="79"><tspan class="pr" font-size="81">(</tspan><tspan font-weight="bold">II</tspan><tspan class="pr" font-size="81">)</tspan></text>
<line x1="1778.5" y1="3272.5" x2="2342" y2="3272.5" stroke="#111" stroke-width="3.2" stroke-linecap="butt"/>
<text x="2061" y="3256.93" font-size="43" font-weight="bold" text-anchor="middle" fill="#000" class="st">*</text>
<line x1="1778.5" y1="3342.5" x2="2202" y2="3342.5" stroke="#111" stroke-width="3.2" stroke-linecap="butt"/>
<text x="1990" y="3314.5" font-size="32" font-weight="normal" text-anchor="middle" fill="#222">ns</text>
<line x1="1778.5" y1="3410.5" x2="2061" y2="3410.5" stroke="#111" stroke-width="3.2" stroke-linecap="butt"/>
<text x="1920" y="3394.43" font-size="43" font-weight="bold" text-anchor="middle" fill="#000" class="st">**</text>
<line x1="1778.5" y1="3480" x2="1921" y2="3480" stroke="#111" stroke-width="3.2" stroke-linecap="butt"/>
<text x="1849.5" y="3452" font-size="32" font-weight="normal" text-anchor="middle" fill="#222">ns</text>
</svg>
</body></html>
